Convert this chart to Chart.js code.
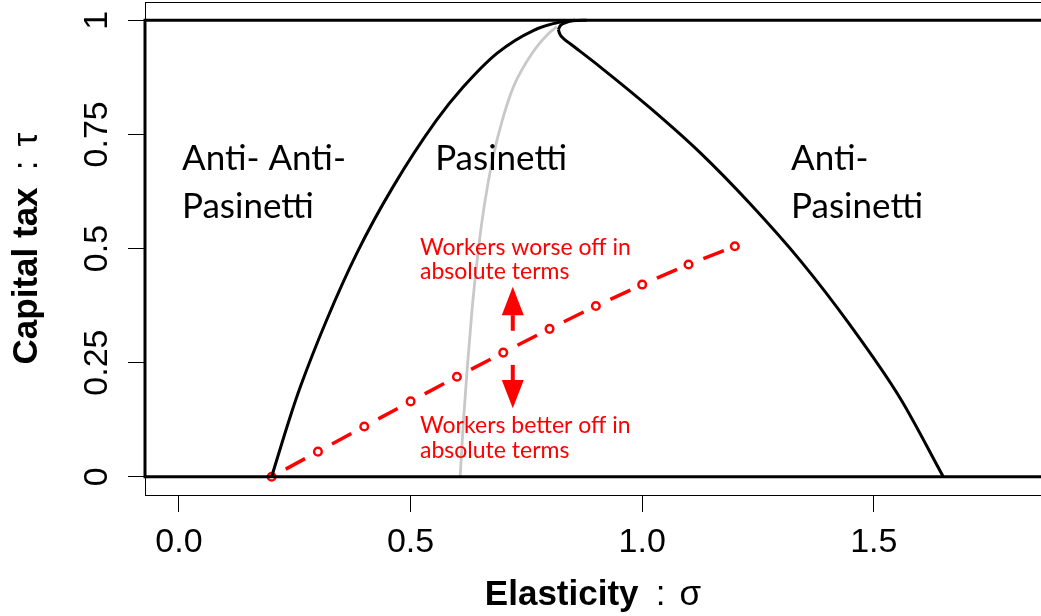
<!DOCTYPE html>
<html><head><meta charset="utf-8">
<script src="https://cdn.jsdelivr.net/npm/chart.js@4.4.1/dist/chart.umd.min.js"></script>
<style>html,body{margin:0;padding:0;background:#fff;}canvas{display:block;}</style>
</head><body>
<canvas id="c" width="1041" height="616"></canvas>
<script>
// ---- axis ranges & ticks ----
const xRange = [-0.0734, 1.861];
const yRange = [-0.04, 1.04];
const xTicks = [0, 0.5, 1.0, 1.5];
const xTickLabels = ['0.0', '0.5', '1.0', '1.5'];
const yTicks = [0, 0.25, 0.5, 0.75, 1];
const yTickLabels = ['0', '0.25', '0.5', '0.75', '1'];

// ---- horizontal bounds of tau ----
const boundaryTau = [0, 1];

// ---- left black boundary (Anti-Anti-Pasinetti / Pasinetti) ----
const leftSigma = [0.200, 0.238, 0.262, 0.319, 0.384, 0.462, 0.556, 0.613, 0.687, 0.766, 0.823, 0.855];
const leftTau   = [0.000, 0.125, 0.197, 0.344, 0.490, 0.635, 0.781, 0.853, 0.928, 0.978, 0.996, 1.000];

// ---- grey curve (workers better/worse off) ----
const graySigma = [0.607, 0.614, 0.622, 0.633, 0.647, 0.660, 0.678, 0.698, 0.722, 0.762, 0.800, 0.816];
const grayTau   = [0.000, 0.120, 0.234, 0.370, 0.504, 0.600, 0.700, 0.781, 0.854, 0.927, 0.973, 0.986];

// ---- right black boundary (Pasinetti / Anti-Pasinetti): top hook + main branch ----
const hookSigma = [0.819, 0.824, 0.835, 0.850, 0.880];
const hookTau   = [0.980, 0.989, 0.995, 0.999, 1.000];
const rightSigma = [0.819, 0.822, 0.830, 0.844, 0.909, 1.017, 1.125, 1.233, 1.341, 1.449, 1.557, 1.650];
const rightTau   = [0.980, 0.970, 0.960, 0.949, 0.898, 0.808, 0.710, 0.598, 0.474, 0.332, 0.172, 0.000];

// ---- red path ----
const redSigma = [0.2, 0.3, 0.4, 0.5, 0.6, 0.7, 0.8, 0.9, 1.0, 1.1, 1.2];
const redTau   = [0.000, 0.055, 0.110, 0.165, 0.219, 0.272, 0.324, 0.374, 0.421, 0.465, 0.505];

// ---- arrows (shaft start, head base, tip) at sigma ----
const arrowSigma = 0.7206;
const arrowUp   = [0.322, 0.354, 0.416];
const arrowDown = [0.245, 0.212, 0.150];

// ---- annotation texts ----
const regionText = [
  {lines: ['Anti- Anti-', 'Pasinetti'], sigma: 0.0065, tau: [0.672, 0.567]},
  {lines: ['Pasinetti'], sigma: 0.553, tau: [0.672]},
  {lines: ['Anti-', 'Pasinetti'], sigma: 1.3215, tau: [0.672, 0.567]}
];
const redText = [
  {lines: ['Workers worse off in', 'absolute terms'], sigma: 0.5204, tau: [0.4858, 0.4326]},
  {lines: ['Workers better off in', 'absolute terms'], sigma: 0.5204, tau: [0.0956, 0.0409]}
];

const pts = (xs, ys) => xs.map((v, i) => ({x: v, y: ys[i]}));

const decor = {
  id: 'decor',
  afterDatasetsDraw(chart) {
    const {ctx, chartArea: a, scales: {x, y}} = chart;
    ctx.save();
    // box
    ctx.strokeStyle = '#000';
    ctx.lineWidth = 1;
    ctx.strokeRect(a.left + 0.5, a.top + 0.5, a.right - a.left + 5, a.bottom - a.top);
    // thick left boundary between tau 0 and 1
    ctx.lineWidth = 3;
    ctx.beginPath();
    ctx.moveTo(a.left, y.getPixelForValue(boundaryTau[0]) + 1.5);
    ctx.lineTo(a.left, y.getPixelForValue(boundaryTau[1]) - 1.5);
    ctx.stroke();

    // arrows
    ctx.fillStyle = '#ff0000';
    const ax = x.getPixelForValue(arrowSigma);
    const drawArrow = (arr) => {
      const y0 = y.getPixelForValue(arr[0]);
      const yb = y.getPixelForValue(arr[1]);
      const yt = y.getPixelForValue(arr[2]);
      ctx.fillRect(ax - 2, Math.min(y0, yb), 4, Math.abs(yb - y0) + 1);
      ctx.beginPath();
      ctx.moveTo(ax - 11, yb);
      ctx.lineTo(ax + 11, yb);
      ctx.lineTo(ax, yt);
      ctx.closePath();
      ctx.fill();
    };
    drawArrow(arrowUp);
    drawArrow(arrowDown);

    // region texts
    ctx.textAlign = 'left';
    ctx.textBaseline = 'alphabetic';
    ctx.fillStyle = '#000';
    ctx.font = '35px Lato';
    regionText.forEach(t => t.lines.forEach((s, i) =>
      ctx.fillText(s, x.getPixelForValue(t.sigma), y.getPixelForValue(t.tau[i]))));
    ctx.fillStyle = '#ff0000';
    ctx.font = '23px Lato';
    redText.forEach(t => t.lines.forEach((s, i) =>
      ctx.fillText(s, x.getPixelForValue(t.sigma), y.getPixelForValue(t.tau[i]))));

    // y tick labels (rotated)
    ctx.fillStyle = '#000';
    ctx.font = '34px "Liberation Sans"';
    ctx.textAlign = 'center';
    yTicks.forEach((v, i) => {
      ctx.save();
      ctx.translate(107, y.getPixelForValue(v));
      ctx.rotate(-Math.PI / 2);
      ctx.fillText(yTickLabels[i], 0, 0);
      ctx.restore();
    });

    // axis titles
    const measure = (bold, sym) => {
      ctx.font = 'bold 35px "Liberation Sans"';
      const wb = ctx.measureText(bold).width;
      ctx.font = '35px "Liberation Sans"';
      const wc = ctx.measureText(':').width;
      const ws = ctx.measureText(sym).width;
      const colonC = wb + 22;
      const symX = colonC + 19;
      return {wc, colonC, symX, total: symX + ws};
    };
    const drawTitle = (bold, sym) => {
      const m = measure(bold, sym);
      const s = -m.total / 2;
      ctx.textAlign = 'left';
      ctx.font = 'bold 35px "Liberation Sans"';
      ctx.fillText(bold, s, 0);
      ctx.font = '35px "Liberation Sans"';
      ctx.fillText(':', s + m.colonC - m.wc / 2, 0);
      ctx.fillText(sym, s + m.symX, 0);
    };
    const cx = (a.left + a.right) / 2, cy = (a.top + a.bottom) / 2;
    ctx.save(); ctx.translate(cx, 605); drawTitle('Elasticity', 'σ'); ctx.restore();
    ctx.save(); ctx.translate(37, cy); ctx.rotate(-Math.PI / 2); drawTitle('Capital tax', 'τ'); ctx.restore();
    ctx.restore();
  }
};

const curve = (xs, ys, color, w) => ({data: pts(xs, ys), showLine: true, borderColor: color, borderWidth: w,
  pointRadius: 0, cubicInterpolationMode: 'monotone'});

new Chart(document.getElementById('c'), {
  type: 'scatter',
  data: {
    datasets: [
      curve([xRange[0], xRange[1]], [boundaryTau[0], boundaryTau[0]], '#000', 3),
      curve([xRange[0], xRange[1]], [boundaryTau[1], boundaryTau[1]], '#000', 3),
      curve(graySigma, grayTau, '#c8c8c8', 2.8),
      curve(leftSigma, leftTau, '#000', 3),
      curve(hookSigma, hookTau, '#000', 3),
      curve(rightSigma, rightTau, '#000', 3),
      {data: pts(redSigma, redTau), showLine: true, borderColor: '#ff0000', borderWidth: 3.5,
        borderDash: [22, 40], pointRadius: 3.8, pointBorderWidth: 2.5, pointBorderColor: '#ff0000',
        pointBackgroundColor: 'rgba(0,0,0,0)',
        segment: {borderDashOffset: c => 46 + (c.p0DataIndex % 2) * 0.01}}
    ]
  },
  options: {
    responsive: false,
    animation: false,
    layout: {autoPadding: false, padding: {top: 2, right: 0, bottom: 0, left: 0}},
    plugins: {legend: {display: false}, tooltip: {enabled: false}},
    scales: {
      x: {
        type: 'linear', min: xRange[0], max: xRange[1],
        afterBuildTicks: s => { s.ticks = xTicks.map(v => ({value: v})); },
        afterFit: s => { s.height = 121; },
        ticks: {color: '#000', font: {family: 'Liberation Sans', size: 34}, padding: 10, maxRotation: 0,
          callback: (v) => xTickLabels[xTicks.indexOf(v)]},
        grid: {drawOnChartArea: false, drawTicks: true, tickLength: 17, color: '#000', lineWidth: 1},
        border: {display: false}
      },
      y: {
        type: 'linear', min: yRange[0], max: yRange[1],
        afterBuildTicks: s => { s.ticks = yTicks.map(v => ({value: v})); },
        afterFit: s => { s.width = 145; },
        ticks: {display: false},
        grid: {drawOnChartArea: false, drawTicks: true, tickLength: 17, color: '#000', lineWidth: 1},
        border: {display: false}
      }
    }
  },
  plugins: [decor]
});
</script>
</body></html>
